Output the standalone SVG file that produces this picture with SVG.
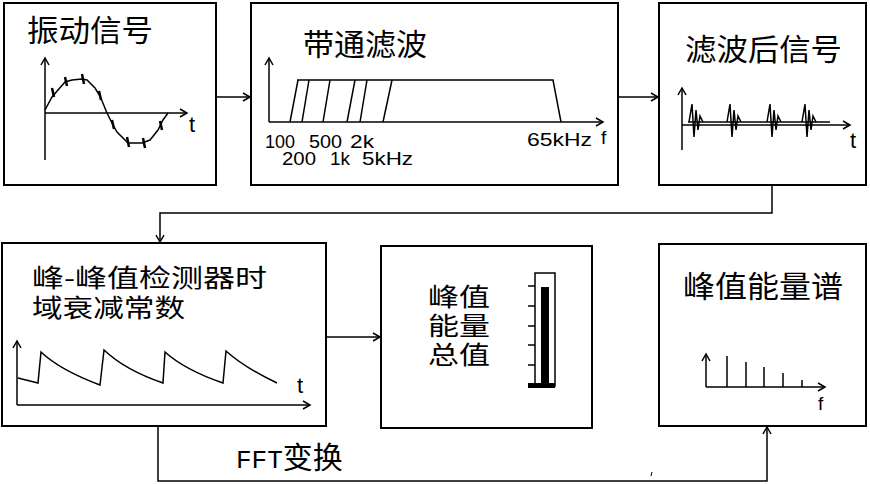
<svg xmlns="http://www.w3.org/2000/svg" width="870" height="484" viewBox="0 0 870 484">
<style>
.box{fill:#fff;stroke:#000;stroke-width:2}
.ln{fill:none;stroke:#000;stroke-width:1.5}
.cjk{font-family:"Noto Sans CJK SC","Noto Sans",sans-serif;font-size:30px;fill:#000}
.cjk2{font-family:"Noto Sans CJK SC","Noto Sans",sans-serif;font-size:25px;fill:#000}
.lat{font-family:"Liberation Sans",Arial,sans-serif;fill:#000}
.ax{fill:none;stroke:#000;stroke-width:1.5;marker-end:url(#ah)}
.sp{stroke:#000;stroke-width:2.5;fill:none}
</style>
<defs>
<marker id="ah" markerWidth="10" markerHeight="10" refX="8" refY="5" orient="auto" markerUnits="userSpaceOnUse">
<path d="M1,1 L8,5 L1,9" fill="none" stroke="#000" stroke-width="1.5"/>
</marker>
</defs>
<rect width="870" height="484" fill="#fff"/>

<g id="connectors">
<path class="ax" d="M216,97 H250"/>
<path class="ax" d="M618,97 H658"/>
<path class="ax" d="M772,185 V213 H160 V242"/>
<path class="ax" d="M326,337 H380"/>
<path class="ax" d="M158,426 V481 H767 V427"/>
<path d="M652,472 L651,476" stroke="#000" stroke-width="1"/>
<text x="236" y="468" font-family="'Liberation Mono','Noto Sans CJK SC',monospace" font-size="26" fill="#000">FFT<tspan font-family="'Noto Sans CJK SC',sans-serif" font-size="30">变换</tspan></text>
</g>

<g id="n1">
<rect class="box" x="4" y="3" width="212" height="182"/>
<text class="cjk" x="27" y="41" textLength="126" lengthAdjust="spacingAndGlyphs">振动信号</text>
<path class="ax" d="M45,160 V58"/>
<path class="ax" d="M45,113 H187"/>
<text class="lat" x="189" y="132" font-size="22">t</text>
<path class="ln" d="M45,110 L52,97 L58,90 L65,82 L72,80 L82,79 L87,80 L95,88 L100,96 L107,113 L113,125 L117,132 L128,143 L135,143 L142,143 L150,140 L158,130 L163,120 L168,113"/>
<path class="sp" d="M52,88 L54,97 M65,77 L67,86 M82,74 L84,84 M99,91 L101,100 M112,120 L114,129 M127,137 L129,147 M143,138 L145,148 M160,121 L162,130"/>
</g>

<g id="n2">
<rect class="box" x="251" y="3" width="367" height="182"/>
<text class="cjk" x="303" y="55" textLength="124" lengthAdjust="spacingAndGlyphs">带通滤波</text>
<path class="ax" d="M269,122 V58"/>
<path class="ax" d="M269,122 H603"/>
<path class="ln" d="M297,80 H553 L561,122 M290,122 L298,80 M302,122 L309,80 M323,122 L330,80 M347,122 L355,80 M360,122 L367,80 M383,122 L392,80"/>
<text class="lat" y="148" font-size="18"><tspan x="265" textLength="30" lengthAdjust="spacingAndGlyphs">100</tspan><tspan x="309" textLength="33" lengthAdjust="spacingAndGlyphs">500</tspan><tspan x="350" textLength="24" lengthAdjust="spacingAndGlyphs">2k</tspan></text>
<text class="lat" y="165" font-size="18"><tspan x="282" textLength="34" lengthAdjust="spacingAndGlyphs">200</tspan><tspan x="330" textLength="20" lengthAdjust="spacingAndGlyphs">1k</tspan><tspan x="362" textLength="51" lengthAdjust="spacingAndGlyphs">5kHz</tspan></text>
<text class="lat" x="527" y="146" font-size="18" textLength="65" lengthAdjust="spacingAndGlyphs">65kHz</text>
<text class="lat" x="601" y="144" font-size="19">f</text>
</g>

<g id="n3">
<rect class="box" x="659" y="3" width="207" height="182"/>
<text class="cjk" x="685" y="60" textLength="157" lengthAdjust="spacingAndGlyphs">滤波后信号</text>
<path class="ax" d="M682,150 V88"/>
<path class="ax" d="M682,125 H850"/>
<text class="lat" x="850" y="148" font-size="22">t</text>
<path class="ln" d="M688,122 H830"/>
<path class="ln" d="M689,122 L692,104 L694,137 L696,110 L698,130 L700,116 L703,122 M727,122 L730,104 L732,137 L734,110 L736,130 L738,116 L741,122 M767,122 L770,104 L772,137 L774,110 L776,130 L778,116 L781,122 M802,122 L805,104 L807,137 L809,110 L811,130 L813,116 L816,122"/>
</g>

<g id="n4">
<rect class="box" x="2" y="243" width="324" height="183"/>
<text class="cjk2" x="32" y="287" textLength="235" lengthAdjust="spacingAndGlyphs">峰-峰值检测器时</text>
<text class="cjk2" x="32" y="317" textLength="153" lengthAdjust="spacingAndGlyphs">域衰减常数</text>
<path class="ax" d="M17,405 V341"/>
<path class="ax" d="M17,405 H310"/>
<text class="lat" x="297" y="393" font-size="22">t</text>
<path class="ln" d="M18,378 L38,383 L41,352 Q60,370 100,385 L104,350 Q125,370 163,383 L165,352 Q185,370 223,383 L226,351 Q245,368 277,383"/>
</g>

<g id="n5">
<rect class="box" x="381" y="246" width="211" height="182"/>
<text class="cjk2" x="428" y="306" textLength="62" lengthAdjust="spacingAndGlyphs">峰值</text>
<text class="cjk2" x="428" y="335" textLength="62" lengthAdjust="spacingAndGlyphs">能量</text>
<text class="cjk2" x="428" y="364" textLength="62" lengthAdjust="spacingAndGlyphs">总值</text>
<rect x="535" y="273" width="20" height="113" fill="none" stroke="#000" stroke-width="1.5"/>
<rect x="541" y="287" width="8" height="100" fill="#000"/>
<rect x="528" y="383" width="27" height="5" fill="#000"/>
<path class="ln" d="M528,286 H535 M528,306 H535 M528,326 H535 M528,345 H535 M528,365 H535"/>
</g>

<g id="n6">
<rect class="box" x="659" y="244" width="207" height="182"/>
<text class="cjk" x="683" y="297" textLength="160" lengthAdjust="spacingAndGlyphs">峰值能量谱</text>
<path class="ax" d="M706,387 V354"/>
<path class="ax" d="M706,387 H825"/>
<text class="lat" x="818" y="410" font-size="19">f</text>
<path class="ln" d="M727,387 V356 M746,387 V362 M764,387 V367 M783,387 V373 M802,387 V380"/>
</g>
</svg>
